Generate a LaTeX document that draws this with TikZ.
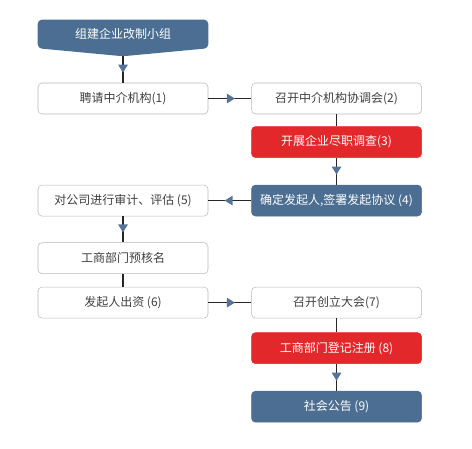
\documentclass[tikz,border=0pt]{standalone}
\usepackage{fontspec}
\newfontfamily\cjkfont{Noto Sans CJK SC}
\usetikzlibrary{arrows.meta, positioning, calc, backgrounds, decorations.markings}
\definecolor{stepblue}{HTML}{4B6E92}
\definecolor{stepred}{HTML}{E3282C}
\definecolor{tipblue}{HTML}{56749A}

\begin{document}
\begin{tikzpicture}[
    x=0.75pt, y=-0.75pt,
    font=\cjkfont\fontsize{9pt}{11pt}\selectfont,
    box/.style={draw=gray!55, rounded corners=3pt, thin, align=center, minimum width=127.5pt, minimum height=23.25pt, inner sep=0pt, text=black!75, fill=white},
    bluebox/.style={box, draw=stepblue, fill=stepblue, text=white},
    redbox/.style={box, draw=stepred, fill=stepred, text=white},
    line/.style={line width=1.3pt, black!85},
    flow/.style={line, postaction={decorate}, decoration={markings, mark=at position 0.62 with {\arrow{Triangle[color=tipblue, width=7pt, length=6pt]}}}}
]
\useasboundingbox (0,0) rectangle (472,449);

% Start
\node[align=center, minimum width=127.5pt, minimum height=21pt, inner sep=0pt, text=white] (zujian) at (123,34) {组建企业改制小组};
\coordinate (zujiantip) at ($(zujian.south)+(0,-6pt)$);
\begin{pgfonlayer}{background}
\fill[stepblue, rounded corners=3pt] (zujian.north west) -- (zujian.north east) -- (zujian.south east) -- (zujiantip) -- (zujian.south west) -- cycle;
\end{pgfonlayer}

% Left and right columns
\node[box] (pinqing) at (123,98.5) {聘请中介机构(1)};
\node[box, right=32.25pt of pinqing] (xietiao) {召开中介机构协调会(2)};
\node[redbox, below=9pt of xietiao] (jindiao) {开展企业尽职调查(3)};
\node[bluebox, below=20.25pt of jindiao] (queding) {确定发起人,签署发起协议 (4)};
\node[box, left=32.25pt of queding] (shenji) {对公司进行审计、评估 (5)};
\node[box, below=19.5pt of shenji] (yuhe) {工商部门预核名};
\node[box, below=9.75pt of yuhe] (chuzi) {发起人出资 (6)};
\node[box, right=32.25pt of chuzi] (chuangli) {召开创立大会(7)};
\node[redbox, below=10.5pt of chuangli] (dengji) {工商部门登记注册 (8)};
\node[bluebox, below=20.25pt of dengji] (gonggao) {社会公告 (9)};

% Connections
\draw[flow] (zujiantip) -- (pinqing);
\draw[flow] (pinqing) -- (xietiao);
\draw[line] (xietiao) -- (jindiao);
\draw[flow] (jindiao) -- (queding);
\draw[flow] (queding) -- (shenji);
\draw[flow] (shenji) -- (yuhe);
\draw[line] (yuhe) -- (chuzi);
\draw[flow] (chuzi) -- (chuangli);
\draw[line] (chuangli) -- (dengji);
\draw[flow] (dengji) -- (gonggao);

\end{tikzpicture}
\end{document}
